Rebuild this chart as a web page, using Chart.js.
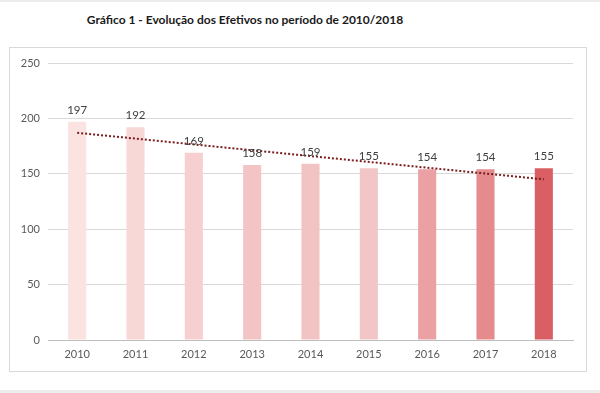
<!DOCTYPE html>
<html>
<head>
<meta charset="utf-8">
<script src="https://cdn.jsdelivr.net/npm/chart.js@4"></script>
<style>
  html, body { margin: 0; padding: 0; background: #ffffff; }
  body { width: 600px; height: 393px; position: relative; overflow: hidden; font-family: Lato, "Open Sans", sans-serif; }
  #topband { position: absolute; left: 0; top: 0; width: 600px; height: 2px; background: #ededed; }
  #bottomband { position: absolute; left: 0; top: 390px; width: 600px; height: 3px; background: #ededed; }
  #title { position: absolute; left: 0; top: 12px; width: 490px; text-align: center; font: bold 12px Lato, "Open Sans", sans-serif; color: #1a1a1a; }
  #frame { position: absolute; left: 9px; top: 47px; width: 576px; height: 323px; border: 1px solid #d9d9d9; background: #fff; }
  #frame canvas { display: block; }
</style>
</head>
<body>
<div id="topband"></div>
<div id="title">Gráfico 1 - Evolução dos Efetivos no período de 2010/2018</div>
<div id="frame"><canvas id="c" width="576" height="323"></canvas></div>
<div id="bottomband"></div>
<script>
const categories = ['2010','2011','2012','2013','2014','2015','2016','2017','2018'];
const efetivos = [197, 192, 169, 158, 159, 155, 154, 154, 155];
const barColors = ['#fae3e1','#f8d7d7','#f6d0d0','#f2c4c4','#f2c3c3','#f2c6c6','#eba1a3','#e68b8d','#d95f64'];
// trend line end points
const trendStart = 187;
const trendEnd = 145;
const yTicks = [0, 50, 100, 150, 200, 250];

const labelPlugin = {
  id: 'valueLabels',
  afterDatasetsDraw(chart) {
    const ctx = chart.ctx;
    const meta = chart.getDatasetMeta(1);
    ctx.save();
    ctx.font = '11.5px Lato, "Open Sans", sans-serif';
    ctx.fillStyle = '#404040';
    ctx.textAlign = 'center';
    ctx.textBaseline = 'bottom';
    meta.data.forEach((bar, i) => {
      ctx.fillText(String(efetivos[i]), bar.x, bar.y - 6);
    });
    ctx.restore();
  }
};

new Chart(document.getElementById('c'), {
  data: {
    labels: categories,
    datasets: [
      {
        type: 'line',
        data: [{x: categories[0], y: trendStart}, {x: categories[categories.length - 1], y: trendEnd}],
        borderColor: '#7a1f1f',
        borderWidth: 2,
        borderDash: [2, 2],
        pointRadius: 0,
        fill: false,
        order: 0
      },
      {
        type: 'bar',
        data: efetivos,
        backgroundColor: barColors,
        borderWidth: 0,
        barPercentage: 0.31,
        categoryPercentage: 1.0,
        order: 1
      }
    ]
  },
  options: {
    responsive: false,
    animation: false,
    layout: { padding: { left: 0, right: 13, top: 15, bottom: 0 } },
    plugins: { legend: { display: false }, tooltip: { enabled: false } },
    scales: {
      x: {
        grid: { display: false, drawTicks: false },
        border: { display: true, color: '#bfbfbf', width: 1 },
        ticks: { color: '#595959', font: { size: 11, family: 'Lato, "Open Sans", sans-serif' }, padding: 8, maxRotation: 0 },
        afterFit(scale) { scale.height = 31; }
      },
      y: {
        min: 0,
        max: 250,
        afterBuildTicks(scale) { scale.ticks = yTicks.map(v => ({ value: v })); },
        grid: { color: (c) => c.tick && c.tick.value === 0 ? '#bfbfbf' : '#d9d9d9', drawTicks: false },
        border: { display: false },
        ticks: { color: '#595959', font: { size: 11, family: 'Lato, "Open Sans", sans-serif' }, padding: 8 },
        afterFit(scale) { scale.width = 38; }
      }
    }
  },
  plugins: [labelPlugin]
});
</script>
</body>
</html>
